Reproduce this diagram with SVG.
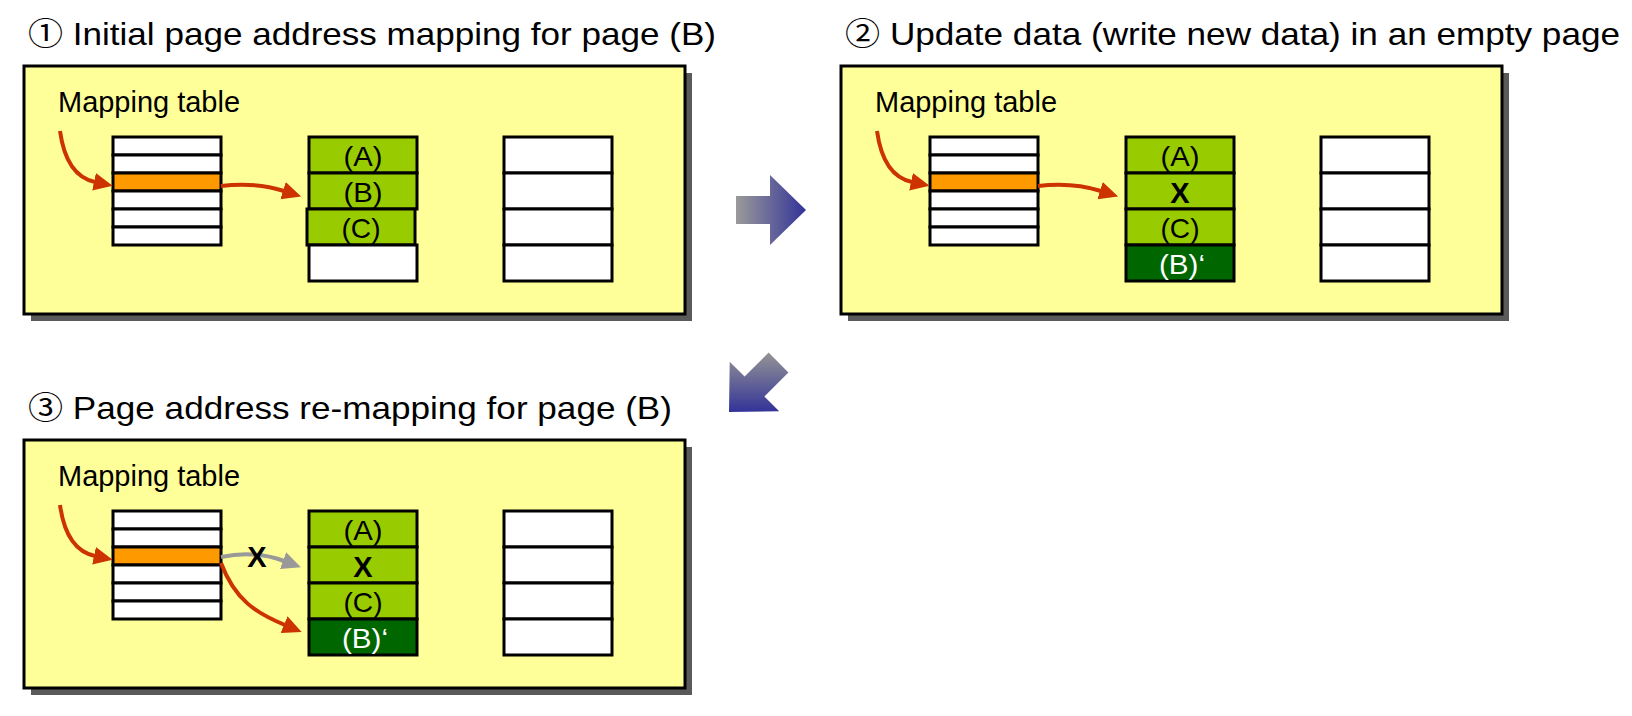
<svg xmlns="http://www.w3.org/2000/svg" width="1632" height="716" viewBox="0 0 1632 716">
<style>
  .title{font-family:"Liberation Sans",Arial,"Noto Sans CJK JP",sans-serif;font-size:32px;fill:#000}
  .lbl{font-family:"Liberation Sans",Arial,sans-serif;font-size:29px;fill:#000}
  .cell{font-family:"Liberation Sans",Arial,sans-serif;font-size:28px;fill:#000;text-anchor:middle}
  .wcell{font-family:"Liberation Sans",Arial,sans-serif;font-size:28px;fill:#fff;text-anchor:middle}
  .xmark{font-family:"Liberation Sans",Arial,sans-serif;font-size:29px;font-weight:bold;fill:#000;text-anchor:middle}
  .panel{fill:#ffff99;stroke:#000;stroke-width:3}
  .shadow{fill:#5a5a5a}
  .w{fill:#fff;stroke:#000;stroke-width:3}
  .o{fill:#ff9900;stroke:#000;stroke-width:3}
  .g{fill:#99cc00;stroke:#000;stroke-width:3}
  .dg{fill:#006600;stroke:#000;stroke-width:3}
  .red{fill:none;stroke:#cc3300;stroke-width:4;marker-end:url(#ahr)}
  .gray{fill:none;stroke:#999999;stroke-width:4;marker-end:url(#ahg)}
</style>
<defs>
  <marker id="ahr" markerUnits="userSpaceOnUse" markerWidth="22" markerHeight="20" viewBox="0 0 22 20" refX="1" refY="9" orient="auto">
    <path d="M0,0 L19,9 L0,18 z" fill="#cc3300"/>
  </marker>
  <marker id="ahg" markerUnits="userSpaceOnUse" markerWidth="22" markerHeight="20" viewBox="0 0 22 20" refX="1" refY="9" orient="auto">
    <path d="M0,0 L19,9 L0,18 z" fill="#999999"/>
  </marker>
  <linearGradient id="gradR" gradientUnits="userSpaceOnUse" x1="736" y1="0" x2="806" y2="0">
    <stop offset="0" stop-color="#9a9a9a"/>
    <stop offset="1" stop-color="#333399"/>
  </linearGradient>
  <linearGradient id="gradD" gradientUnits="userSpaceOnUse" x1="0" y1="352" x2="0" y2="412">
    <stop offset="0" stop-color="#959595"/>
    <stop offset="1" stop-color="#333399"/>
  </linearGradient>
</defs>

<!-- Panel 1 -->
<g id="panel1">
  <text class="title" x="28" y="45" textLength="688" lengthAdjust="spacingAndGlyphs">① Initial page address mapping for page (B)</text>
  <rect class="shadow" x="31" y="73" width="661" height="248"/>
  <rect class="panel" x="24" y="66" width="661" height="248"/>
  <text class="lbl" x="58" y="112" textLength="182" lengthAdjust="spacingAndGlyphs">Mapping table</text>
  <g id="p1-table">
    <rect class="w" x="113" y="137" width="108" height="18"/>
    <rect class="w" x="113" y="155" width="108" height="18"/>
    <rect class="o" x="113" y="173" width="108" height="18"/>
    <rect class="w" x="113" y="191" width="108" height="18"/>
    <rect class="w" x="113" y="209" width="108" height="18"/>
    <rect class="w" x="113" y="227" width="108" height="18"/>
  </g>
  <g id="p1-data">
    <rect class="g" x="309" y="137" width="108" height="36"/>
    <rect class="g" x="309" y="173" width="108" height="36"/>
    <rect class="g" x="307" y="209" width="108" height="36"/>
    <rect class="w" x="309" y="245" width="108" height="36"/>
    <text class="cell" x="363" y="166" textLength="39" lengthAdjust="spacingAndGlyphs">(A)</text>
    <text class="cell" x="363" y="202" textLength="39" lengthAdjust="spacingAndGlyphs">(B)</text>
    <text class="cell" x="361" y="238" textLength="39" lengthAdjust="spacingAndGlyphs">(C)</text>
  </g>
  <g id="p1-free">
    <rect class="w" x="504" y="137" width="108" height="36"/>
    <rect class="w" x="504" y="173" width="108" height="36"/>
    <rect class="w" x="504" y="209" width="108" height="36"/>
    <rect class="w" x="504" y="245" width="108" height="36"/>
  </g>
</g>

<!-- Panel 2 -->
<g id="panel2">
  <text class="title" x="845" y="45" textLength="775" lengthAdjust="spacingAndGlyphs">② Update data (write new data) in an empty page</text>
  <rect class="shadow" x="848" y="73" width="661" height="248"/>
  <rect class="panel" x="841" y="66" width="661" height="248"/>
  <text class="lbl" x="875" y="112" textLength="182" lengthAdjust="spacingAndGlyphs">Mapping table</text>
  <g id="p2-table">
    <rect class="w" x="930" y="137" width="108" height="18"/>
    <rect class="w" x="930" y="155" width="108" height="18"/>
    <rect class="o" x="930" y="173" width="108" height="18"/>
    <rect class="w" x="930" y="191" width="108" height="18"/>
    <rect class="w" x="930" y="209" width="108" height="18"/>
    <rect class="w" x="930" y="227" width="108" height="18"/>
  </g>
  <g id="p2-data">
    <rect class="g" x="1126" y="137" width="108" height="36"/>
    <rect class="g" x="1126" y="173" width="108" height="36"/>
    <rect class="g" x="1126" y="209" width="108" height="36"/>
    <rect class="dg" x="1126" y="245" width="108" height="36"/>
    <text class="cell" x="1180" y="166" textLength="39" lengthAdjust="spacingAndGlyphs">(A)</text>
    <text class="xmark" x="1180" y="203">X</text>
    <text class="cell" x="1180" y="238" textLength="39" lengthAdjust="spacingAndGlyphs">(C)</text>
    <text class="wcell" x="1182" y="274" textLength="46" lengthAdjust="spacingAndGlyphs">(B)‘</text>
  </g>
  <g id="p2-free">
    <rect class="w" x="1321" y="137" width="108" height="36"/>
    <rect class="w" x="1321" y="173" width="108" height="36"/>
    <rect class="w" x="1321" y="209" width="108" height="36"/>
    <rect class="w" x="1321" y="245" width="108" height="36"/>
  </g>
</g>

<!-- Panel 3 -->
<g id="panel3">
  <text class="title" x="28" y="419" textLength="644" lengthAdjust="spacingAndGlyphs">③ Page address re-mapping for page (B)</text>
  <rect class="shadow" x="31" y="447" width="661" height="248"/>
  <rect class="panel" x="24" y="440" width="661" height="248"/>
  <text class="lbl" x="58" y="486" textLength="182" lengthAdjust="spacingAndGlyphs">Mapping table</text>
  <g id="p3-table">
    <rect class="w" x="113" y="511" width="108" height="18"/>
    <rect class="w" x="113" y="529" width="108" height="18"/>
    <rect class="o" x="113" y="547" width="108" height="18"/>
    <rect class="w" x="113" y="565" width="108" height="18"/>
    <rect class="w" x="113" y="583" width="108" height="18"/>
    <rect class="w" x="113" y="601" width="108" height="18"/>
  </g>
  <g id="p3-data">
    <rect class="g" x="309" y="511" width="108" height="36"/>
    <rect class="g" x="309" y="547" width="108" height="36"/>
    <rect class="g" x="309" y="583" width="108" height="36"/>
    <rect class="dg" x="309" y="619" width="108" height="36"/>
    <text class="cell" x="363" y="540" textLength="39" lengthAdjust="spacingAndGlyphs">(A)</text>
    <text class="xmark" x="363" y="577">X</text>
    <text class="cell" x="363" y="612" textLength="39" lengthAdjust="spacingAndGlyphs">(C)</text>
    <text class="wcell" x="365" y="648" textLength="46" lengthAdjust="spacingAndGlyphs">(B)‘</text>
  </g>
  <g id="p3-free">
    <rect class="w" x="504" y="511" width="108" height="36"/>
    <rect class="w" x="504" y="547" width="108" height="36"/>
    <rect class="w" x="504" y="583" width="108" height="36"/>
    <rect class="w" x="504" y="619" width="108" height="36"/>
  </g>
</g>

<!-- Step arrows -->
<g id="step-arrows">
  <polygon points="736,196 770,196 770,175 806,210 770,245 770,224 736,224" fill="url(#gradR)"/>
  <polygon points="788.4,372.4 764.4,396.4 779.2,411.3 729,412 729.7,361.8 744.6,376.6 768.6,352.6" fill="url(#gradD)"/>
</g>

<!-- Connectors -->
<g id="connectors">
  <path class="red" d="M60,131 C64,160 76,178 95,182"/>
  <path class="red" d="M221,186 C245,183 265,185 284,191"/>
  <path class="red" d="M877,131 C881,160 893,178 912,182"/>
  <path class="red" d="M1038,186 C1062,183 1082,185 1101,191"/>
  <path class="red" d="M60,505 C64,534 76,552 95,556"/>
  <path class="gray" d="M221,557 C245,552 265,554 284,561"/>
  <path class="red" d="M221,563 C235,600 256,613 285,625"/>
  <text class="xmark" x="257" y="567">X</text>
</g>
</svg>
